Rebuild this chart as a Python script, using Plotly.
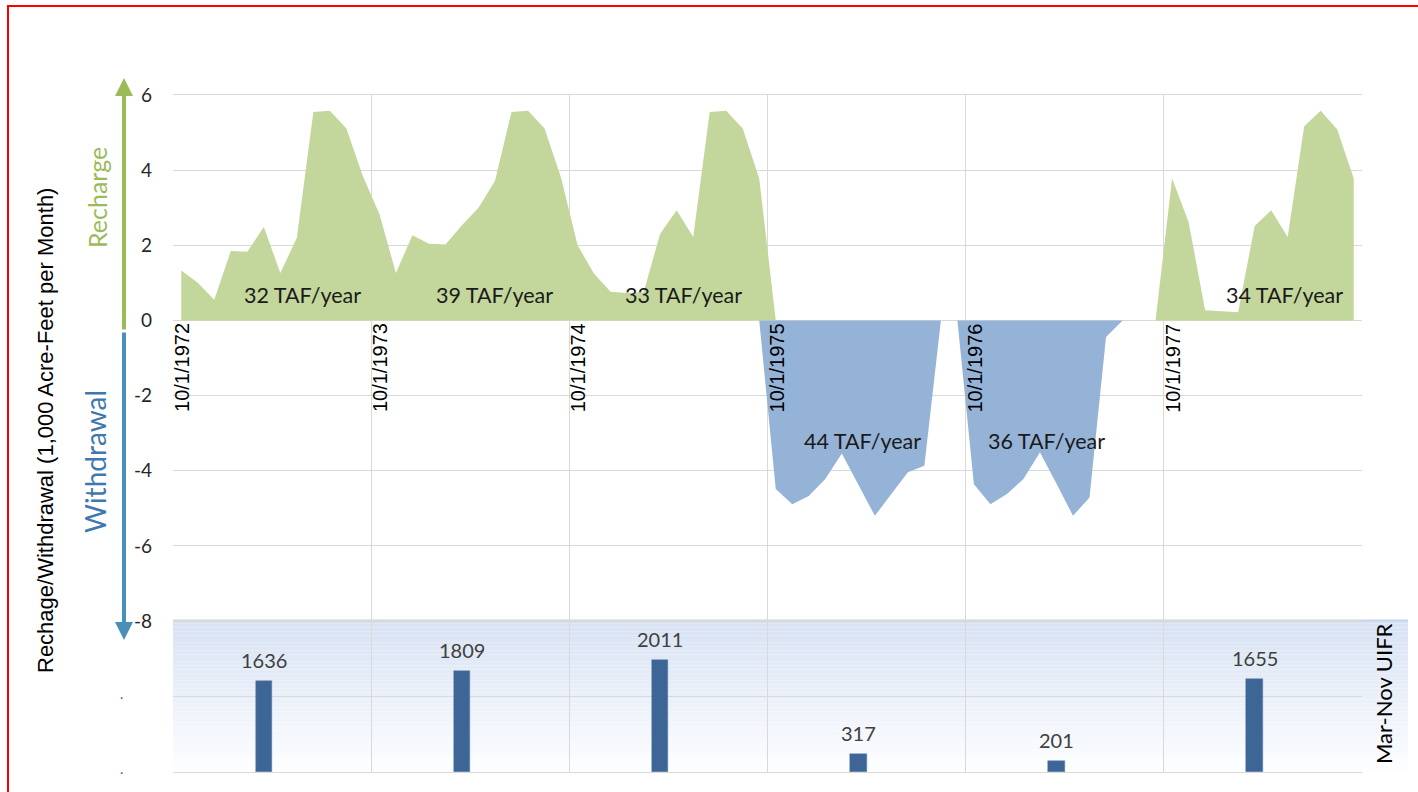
import plotly.graph_objects as go
import pandas as pd

# ---------------- data ----------------
months = list(pd.date_range("1972-10-01", periods=72, freq="MS").strftime("%Y-%m"))

recharge = [
    1.33, 1.00, 0.55, 1.85, 1.83, 2.49, 1.26, 2.20, 5.55, 5.58, 5.11, 3.84,
    2.83, 1.26, 2.27, 2.04, 2.02, 2.53, 3.00, 3.72, 5.55, 5.58, 5.11, 3.80,
    2.00, 1.24, 0.76, 0.73, 0.75, 2.31, 2.93, 2.22, 5.55, 5.58, 5.11, 3.78,
    0, 0, 0, 0, 0, 0, 0, 0, 0, 0, 0, 0,
    0, 0, 0, 0, 0, 0, 0, 0, 0, 0, 0, 0,
    3.78, 2.62, 0.27, 0.25, 0.22, 2.51, 2.93, 2.22, 5.17, 5.58, 5.08, 3.78,
]
withdrawal = [
    0, 0, 0, 0, 0, 0, 0, 0, 0, 0, 0, 0,
    0, 0, 0, 0, 0, 0, 0, 0, 0, 0, 0, 0,
    0, 0, 0, 0, 0, 0, 0, 0, 0, 0, 0, 0,
    -4.49, -4.89, -4.67, -4.22, -3.54, -4.35, -5.20, -4.62, -4.04, -3.87, 0, 0,
    -4.36, -4.89, -4.62, -4.22, -3.51, -4.35, -5.20, -4.71, -0.44, 0, 0, 0,
    0, 0, 0, 0, 0, 0, 0, 0, 0, 0, 0, 0,
]

y_ticks = [6, 4, 2, 0, -2, -4, -6, -8]
y_tick_text = ["6", "4", "2", "0", "-2", "-4", "-6", "-8"]

year_labels = ["10/1/1972", "10/1/1973", "10/1/1974", "10/1/1975", "10/1/1976", "10/1/1977"]
year_start_months = ["1972-10", "1973-10", "1974-10", "1975-10", "1976-10", "1977-10"]

uifr_months = ["1973-03", "1974-03", "1975-03", "1976-03", "1977-03", "1978-03"]
uifr_values = [1636, 1809, 2011, 317, 201, 1655]

taf_labels = ["32 TAF/year", "39 TAF/year", "33 TAF/year", "44 TAF/year", "36 TAF/year", "34 TAF/year"]
taf_x = [7.32, 18.95, 30.4, 41.25, 52.4, 66.8]
taf_y = [0.69, 0.69, 0.69, -3.2, -3.2, 0.69]

# ---------------- figure ----------------
W, H = 1418, 792
def px(x):
    return x / W
def py(y):
    return 1 - y / H

FONT = "Lato"
fig = go.Figure()

fig.add_trace(go.Scatter(x=months, y=recharge, mode="lines", fill="tozeroy",
                         line=dict(width=0, color="#c3d69b"), fillcolor="#c3d69b",
                         hoverinfo="x+y", showlegend=False, xaxis="x", yaxis="y"))
fig.add_trace(go.Scatter(x=months, y=withdrawal, mode="lines", fill="tozeroy",
                         line=dict(width=0, color="#95b3d7"), fillcolor="#95b3d7",
                         hoverinfo="x+y", showlegend=False, xaxis="x", yaxis="y"))
fig.add_trace(go.Bar(x=uifr_months, y=uifr_values, width=1,
                     marker=dict(color="#3d6595", line=dict(color="#5a7fae", width=0.5)),
                     showlegend=False, xaxis="x2", yaxis="y2"))

grid = "#d9d9d9"
xdom = [px(173), px(1362)]
fig.update_layout(
    width=W, height=H,
    margin=dict(l=0, r=0, t=0, b=0, pad=0, autoexpand=False),
    paper_bgcolor="white",
    plot_bgcolor="rgba(0,0,0,0)",
    font=dict(family=FONT, color="#262626"),
    bargap=0,
    showlegend=False,
    xaxis=dict(domain=xdom, type="category", categoryorder="array", categoryarray=months,
               range=[-0.5, 71.5], tickson="boundaries", dtick=12, showgrid=True,
               gridcolor=grid, showticklabels=False, ticks="", showline=True, mirror=True,
               linecolor=grid, anchor="y", zeroline=False, automargin=False),
    yaxis=dict(domain=[py(621), py(95)], range=[-8, 6], tickvals=y_ticks, ticktext=y_tick_text,
               showgrid=True, gridcolor=grid, zeroline=True, zerolinecolor=grid, zerolinewidth=1,
               tickfont=dict(size=19, color="#262626", family=FONT),
               ticklabelstandoff=20, showline=False, anchor="x", automargin=False),
    xaxis2=dict(domain=xdom, type="category", categoryorder="array", categoryarray=months,
                range=[-0.5, 71.5], tickson="boundaries", dtick=12, showgrid=True,
                gridcolor=grid, showticklabels=False, ticks="", showline=True, mirror=True,
                linecolor=grid, anchor="y2", automargin=False),
    yaxis2=dict(domain=[py(772), py(621)], range=[0, 2700], dtick=1350, showgrid=True,
                gridcolor=grid, zeroline=False, showticklabels=False, anchor="x2",
                automargin=False),
)

shapes = []
# gradient band behind the UIFR panel
n = 40
top, bot = 620, 772
c0 = (216, 226, 243)
c1 = (253, 254, 255)
for i in range(n):
    t = i / (n - 1)
    c = tuple(int(round(c0[k] + (c1[k] - c0[k]) * t)) for k in range(3))
    y0 = top + (bot - top) * i / n
    y1 = top + (bot - top) * (i + 1) / n
    shapes.append(dict(type="rect", xref="paper", yref="paper", x0=px(173), x1=px(1408),
                       y0=py(y1), y1=py(y0), line=dict(width=0),
                       fillcolor=f"rgb{c}", layer="below"))
shapes.append(dict(type="line", xref="paper", yref="paper", x0=px(173), x1=px(1408),
                   y0=py(620.5), y1=py(620.5), line=dict(color="#c6d3ea", width=2), layer="below"))
# red frame
shapes.append(dict(type="rect", xref="paper", yref="paper", x0=px(8), x1=1.2, y0=-0.2, y1=py(6),
                   line=dict(color="#ff0000", width=2), fillcolor="rgba(0,0,0,0)"))
fig.update_layout(shapes=shapes)

ann = []
# axis arrows
ann.append(dict(xref="paper", yref="paper", x=px(124), y=py(78), ax=0, ay=331 - 78,
                showarrow=True, arrowhead=2, arrowsize=0.9, arrowwidth=4,
                arrowcolor="#9bbb59", text=""))
ann.append(dict(xref="paper", yref="paper", x=px(124), y=py(640), ax=0, ay=331 - 640,
                showarrow=True, arrowhead=2, arrowsize=0.9, arrowwidth=4,
                arrowcolor="#4a8fba", text=""))
ann.append(dict(xref="paper", yref="paper", x=px(97), y=py(198), text="Recharge",
                xanchor="center", yanchor="middle",
                textangle=-90, showarrow=False, font=dict(size=25, color="#9bbb59", family=FONT)))
ann.append(dict(xref="paper", yref="paper", x=px(95), y=py(462), text="Withdrawal",
                xanchor="center", yanchor="middle",
                textangle=-90, showarrow=False, font=dict(size=28, color="#3f78ad", family=FONT)))
ann.append(dict(xref="paper", yref="paper", x=px(45), y=py(431),
                text="Rechage/Withdrawal (1,000 Acre-Feet per Month)",
                xanchor="center", yanchor="middle",
                textangle=-90, showarrow=False, font=dict(size=22, color="#000000", family="Liberation Sans")))
ann.append(dict(xref="paper", yref="paper", x=px(1383), y=py(694), text="Mar-Nov UIFR",
                xanchor="center", yanchor="middle",
                textangle=-90, showarrow=False, font=dict(size=22, color="#000000", family=FONT)))
# dots as lower-panel tick labels
for yy in (697, 772):
    ann.append(dict(xref="paper", yref="paper", x=px(121), y=py(yy - 4), text=".",
                    xanchor="center", yanchor="middle",
                    showarrow=False, font=dict(size=14, color="#595959", family=FONT)))
# date labels at each water-year start
for lab, m in zip(year_labels, year_start_months):
    ann.append(dict(xref="x", yref="y", x=months.index(m) - 0.5, y=0, text=lab,
                    textangle=-90, showarrow=False, xanchor="left", yanchor="top",
                    xshift=-4, yshift=-1,
                    font=dict(size=20, color="#000000", family="Liberation Sans")))
# annual totals
for lab, xx, yy in zip(taf_labels, taf_x, taf_y):
    ann.append(dict(xref="x", yref="y", x=xx, y=yy, text=lab, showarrow=False,
                    xanchor="center", yanchor="middle",
                    font=dict(size=21.5, color="#1a1a1a", family=FONT)))
# bar value labels
for m, v in zip(uifr_months, uifr_values):
    ann.append(dict(xref="x2", yref="y2", x=m, y=v, text=str(v), showarrow=False,
                    xanchor="center", yanchor="bottom", yshift=7,
                    font=dict(size=20, color="#404040", family=FONT)))
fig.update_layout(annotations=ann)

fig.write_html(
    "out.html",
    config={"displayModeBar": False},
    post_script=(
        "document.body.style.margin='0';document.body.style.overflow='hidden';"
        "var d=document.getElementsByClassName('plotly-graph-div')[0];"
        "d.style.position='fixed';d.style.left='0px';d.style.top='0px';"
    ),
)
